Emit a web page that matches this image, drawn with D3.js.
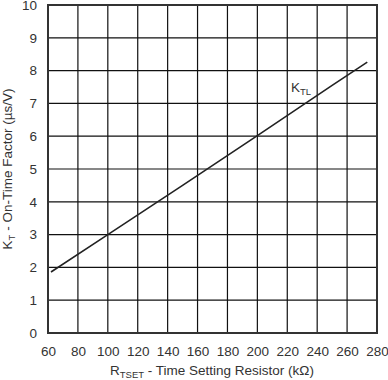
<!DOCTYPE html>
<html><head><meta charset="utf-8">
<script src="https://cdn.jsdelivr.net/npm/d3@7"></script>
<style>body{margin:0;background:#fff}text{font-family:"Liberation Sans",Arial,sans-serif;fill:#333}</style>
</head><body>
<svg id="c" width="388" height="380"></svg>
<script>
const xTicks = [60,80,100,120,140,160,180,200,220,240,260,280];
const yTicks = [0,1,2,3,4,5,6,7,8,9,10];
const rtset = [62,100,150,200,250,273.5];
const ktl = [1.86,3.0,4.5,6.02,7.55,8.26];
const seriesLabel = "K";
const seriesSub = "TL";

const svg = d3.select("#c");
const L=48,R=377,T=5,B=333;
const x = d3.scaleLinear().domain([60,280]).range([L,R]);
const y = d3.scaleLinear().domain([0,10]).range([B,T]);

const g = svg.append("g");
g.selectAll(".vg").data(xTicks).join("line")
 .attr("x1",d=>x(d)).attr("x2",d=>x(d)).attr("y1",T).attr("y2",B)
 .attr("stroke","#111").attr("stroke-width",1.2);
g.selectAll(".hg").data(yTicks).join("line")
 .attr("y1",d=>y(d)).attr("y2",d=>y(d)).attr("x1",L).attr("x2",R)
 .attr("stroke","#111").attr("stroke-width",1.2);
g.append("rect").attr("x",L).attr("y",T).attr("width",R-L).attr("height",B-T)
 .attr("fill","none").attr("stroke","#333").attr("stroke-width",2);

const xa = d3.axisBottom(x).tickValues(xTicks).tickSize(0).tickPadding(13);
svg.append("g").attr("transform",`translate(0,${B})`).call(xa)
 .call(s=>s.select(".domain").remove())
 .selectAll("text").style("font-size","13.5px").attr("fill","#333");
const ya = d3.axisLeft(y).tickValues(yTicks).tickSize(0).tickPadding(11);
svg.append("g").attr("transform",`translate(${L},0)`).call(ya)
 .call(s=>s.select(".domain").remove())
 .selectAll("text").style("font-size","13.5px").attr("fill","#333");

svg.append("path").datum(rtset.map((d,i)=>[d,ktl[i]]))
 .attr("d",d3.line().x(d=>x(d[0])).y(d=>y(d[1])))
 .attr("fill","none").attr("stroke","#222").attr("stroke-width",1.6);

const lab = svg.append("text").attr("x",x(222.5)).attr("y",y(7.35)).style("font-size","13.5px");
lab.append("tspan").text(seriesLabel);
lab.append("tspan").text(seriesSub).attr("dy",3).style("font-size","9.5px");

const xt = svg.append("text").attr("x",212).attr("y",375).attr("text-anchor","middle").style("font-size","13.5px");
xt.append("tspan").text("R");
xt.append("tspan").text("TSET").attr("dy",3).style("font-size","9.5px");
xt.append("tspan").text(" - Time Setting Resistor (kΩ)").attr("dy",-3);

const yt = svg.append("text").attr("transform",`translate(12,${(T+B)/2}) rotate(-90)`).attr("text-anchor","middle").style("font-size","13.5px");
yt.append("tspan").text("K");
yt.append("tspan").text("T").attr("dy",3).style("font-size","9.5px");
yt.append("tspan").text(" - On-Time Factor (µs/V)").attr("dy",-3);
</script>
</body></html>
